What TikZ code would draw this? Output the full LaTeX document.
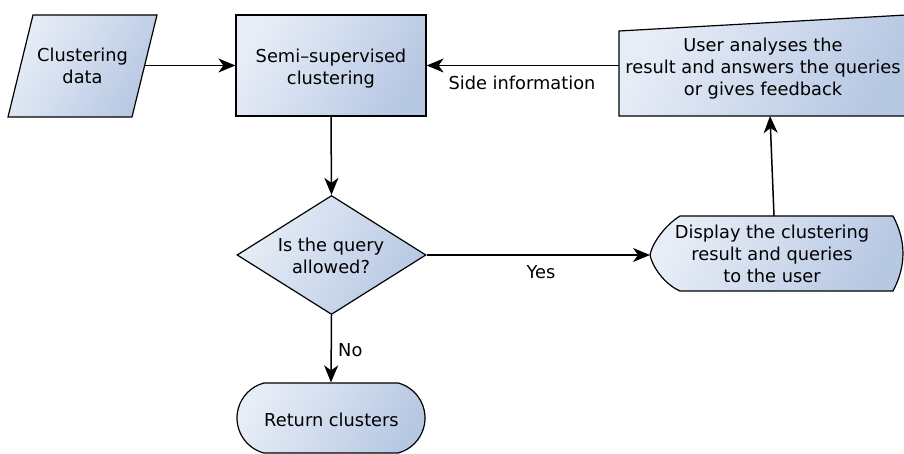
\documentclass[tikz,border=0pt]{standalone}
\usepackage{fontspec}
\setmainfont{DejaVu Sans}
\usetikzlibrary{arrows.meta,shapes.geometric,shapes.misc}

\definecolor{boxlight}{RGB}{231,237,247}
\definecolor{boxdark}{RGB}{183,200,227}

\begin{document}
\begin{tikzpicture}[x=1pt,y=1pt,
  every node/.style={font=\fontsize{17.8}{22}\selectfont},
  fillbox/.style={draw=black, line width=1.2pt, left color=boxlight, right color=boxdark, shading angle=60},
  txt/.style={align=center, anchor=base, inner sep=0pt},
  flow/.style={draw=black, line width=1.5pt, -{Stealth[length=17pt,width=14pt,inset=5pt]}}]
\useasboundingbox (0,0) rectangle (904,454);
\clip (0,0) rectangle (904,454);

% input data (parallelogram)
\path[fillbox] (33,439) -- (157,439) -- (132,337) -- (8,337) -- cycle;
\coordinate (dataout) at (144.5,388.5);

% process box
\node[fillbox, rectangle, minimum width=190, minimum height=101, inner sep=0pt] (ssc) at (331,388.5) {};

% manual input box (runs off the right edge)
\path[fillbox] (619,338) -- (619,423) -- (910,439.2) -- (910,338) -- cycle;
\coordinate (userW) at (619,388.5);
\coordinate (userS) at (770,338);

% display symbol
\path[fillbox] (680,238) -- (893,238)
  .. controls (906.3,213) and (906.3,188) .. (893,163) -- (680,163)
  .. controls (664,170) and (652,188) .. (650,199)
  .. controls (652,210) and (664,228) .. (680,238) -- cycle;
\coordinate (dispW) at (650,199);
\coordinate (dispN) at (774,238);

% decision
\node[fillbox, diamond, minimum width=189, minimum height=119, inner sep=0pt] (q) at (331.5,199) {};

% terminator
\node[fillbox, rounded rectangle, rounded rectangle arc length=150, minimum width=188, minimum height=70, inner sep=0pt] (ret) at (331,36) {};

% texts (base = baseline of the last line)
\node[txt] (datat) at (82.5,370) {Clustering\\data};
\node[txt] (ssct) at (331,369) {Semi–supervised\\clustering};
\node[txt] (usert) at (763,358) {User analyses the\\result and answers the queries\\or gives feedback};
\node[txt] (dispt) at (772,171) {Display the clustering\\result and queries\\to the user};
\node[txt] (qt) at (331,180) {Is the query\\allowed?};
\node[txt] (rett) at (331.5,27) {Return clusters};

% connectors
\draw[flow] (dataout) -- (ssc.west);
\draw[flow] (userW) -- (ssc.east);
\draw[flow] (ssc.south) -- (q.north);
\draw[flow] (q.east) -- (dispW);
\draw[flow] (q.south) -- (ret.north);
\draw[flow] (dispN) -- (userS);

% connector labels
\node[txt] (side) at (522,364) {Side information};
\node[txt] (yes) at (541,175) {Yes};
\node[txt, anchor=base west] (no) at (338,97) {No};
\end{tikzpicture}
\end{document}
